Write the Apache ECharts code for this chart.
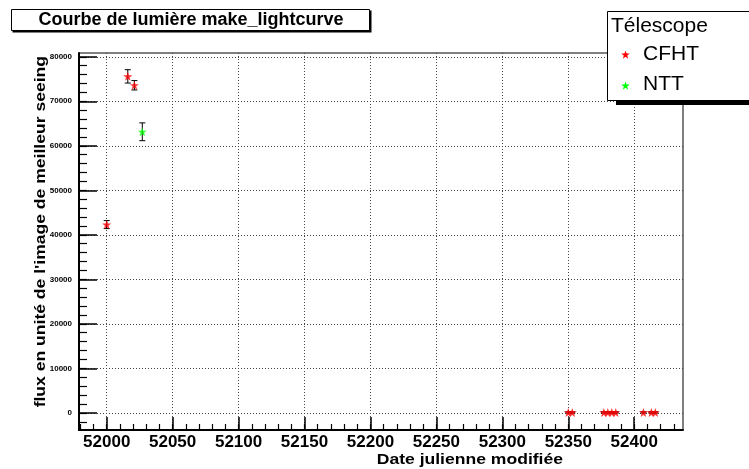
<!DOCTYPE html>
<html><head><meta charset="utf-8">
<script src="https://cdn.jsdelivr.net/npm/echarts@6/dist/echarts.min.js"></script>
<style>html,body{margin:0;padding:0;background:#fff}#c{width:749px;height:469px}</style>
</head><body><div id="c"></div><script>
// ---- data ----
const cfhtDays = [52000, 52016, 52021, 52350, 52353, 52377, 52380, 52383, 52386, 52407, 52413, 52416];
const cfhtFlux = [42300, 75600, 73600, 100, 100, 100, 100, 100, 100, 100, 100, 100];
const cfhtErr  = [900, 1500, 1050, 150, 150, 150, 150, 150, 150, 150, 150, 150];
const nttDays = [52027];
const nttFlux = [63150];
const nttErr  = [2000];
const xTickLabels = [52000, 52050, 52100, 52150, 52200, 52250, 52300, 52350, 52400];
const yTickLabels = [0, 10000, 20000, 30000, 40000, 50000, 60000, 70000, 80000];
const legendNames = ['CFHT', 'NTT'];
const titleText = 'Courbe de lumière make_lightcurve';
const legendTitle = 'Télescope';
const xTitle = 'Date julienne modifiée';
const yTitle = "flux en unité de l'image de meilleur seeing";

const xMin = 51979, xMax = 52437, yMin = -3850, yMax = 80850;
const xMinor = []; for (let v = 51980; v <= 52430; v += 10) xMinor.push(v);
const yMinor = []; for (let v = -2000; v <= 80000; v += 2000) yMinor.push(v);

const FONT = "'Liberation Sans', Arial, Helvetica, sans-serif";
const STAR_PTS = [[0,-10],[2.35,-3.24],[9.51,-3.09],[3.80,1.24],[5.88,8.09],[0,4],[-5.88,8.09],[-3.80,1.24],[-9.51,-3.09],[-2.35,-3.24]];
const STAR = 'M' + STAR_PTS.map(p => p[0] + ',' + p[1]).join(' L') + ' Z';
const RED = '#ff0000', GREEN = '#00ff00';
function starAt(cx, cy, r) { return STAR_PTS.map(p => [cx + p[0] * r / 10, cy + p[1] * r / 10]); }

function errItem(params, api) {
  const x = api.value(0), y = api.value(1), e = api.value(2);
  const t = api.coord([x, y + e]), b = api.coord([x, y - e]);
  const s = {stroke: '#000', lineWidth: 1};
  return {type: 'group', children: [
    {type: 'line', shape: {x1: t[0], y1: t[1], x2: b[0], y2: b[1]}, style: s},
    {type: 'line', shape: {x1: t[0] - 3, y1: t[1], x2: t[0] + 3, y2: t[1]}, style: s},
    {type: 'line', shape: {x1: b[0] - 3, y1: b[1], x2: b[0] + 3, y2: b[1]}, style: s}
  ]};
}

const gridRect = {left: 79, right: 66, top: 53, bottom: 39};
const chart = echarts.init(document.getElementById('c'), null, {renderer: 'canvas'});
chart.setOption({
  animation: false,
  backgroundColor: '#fff',
  grid: [
    Object.assign({show: true, borderColor: '#000', borderWidth: 1, containLabel: false}, gridRect),
    Object.assign({show: false, containLabel: false}, gridRect)
  ],
  xAxis: [{
    type: 'value', gridIndex: 0, min: xMin, max: xMax, position: 'bottom',
    axisLine: {show: true, onZero: false, lineStyle: {color: '#000', width: 2}},
    axisTick: {show: true, inside: true, length: 13, customValues: xTickLabels, lineStyle: {color: '#000', width: 1.5}},
    axisLabel: {show: true, customValues: xTickLabels, margin: 4, fontFamily: FONT, fontWeight: 'bold', fontSize: 17, color: '#000',
      formatter: v => String(v)},
    splitLine: {show: true, lineStyle: {color: '#444', width: 1, type: [1, 2]}}
  }, {
    type: 'value', gridIndex: 1, min: xMin, max: xMax, position: 'bottom',
    axisLine: {show: false, onZero: false},
    axisTick: {show: true, inside: true, length: 6, customValues: xMinor, lineStyle: {color: '#000', width: 1.2}},
    axisLabel: {show: false}, splitLine: {show: false}
  }],
  yAxis: [{
    type: 'value', gridIndex: 0, min: yMin, max: yMax, position: 'left',
    axisLine: {show: true, onZero: false, lineStyle: {color: '#000', width: 2}},
    axisTick: {show: true, inside: true, length: 18, customValues: yTickLabels, lineStyle: {color: '#000', width: 1.5}},
    axisLabel: {show: true, customValues: yTickLabels, margin: 7, fontFamily: FONT, fontWeight: 'bold', fontSize: 8, color: '#000',
      formatter: v => String(v)},
    splitLine: {show: true, lineStyle: {color: '#444', width: 1, type: [1, 2]}}
  }, {
    type: 'value', gridIndex: 1, min: yMin, max: yMax, position: 'left',
    axisLine: {show: false, onZero: false},
    axisTick: {show: true, inside: true, length: 8, customValues: yMinor, lineStyle: {color: '#000', width: 1.2}},
    axisLabel: {show: false}, splitLine: {show: false}
  }],
  series: [
    {type: 'custom', name: 'CFHT err', xAxisIndex: 0, yAxisIndex: 0, renderItem: errItem, z: 2,
      data: cfhtDays.map((d, i) => [d, cfhtFlux[i], cfhtErr[i]])},
    {type: 'custom', name: 'NTT err', xAxisIndex: 0, yAxisIndex: 0, renderItem: errItem, z: 2,
      data: nttDays.map((d, i) => [d, nttFlux[i], nttErr[i]])},
    {type: 'scatter', name: legendNames[0], xAxisIndex: 0, yAxisIndex: 0, symbol: 'path://' + STAR, symbolSize: 9, z: 3,
      itemStyle: {color: RED}, data: cfhtDays.map((d, i) => [d, cfhtFlux[i]])},
    {type: 'scatter', name: legendNames[1], xAxisIndex: 0, yAxisIndex: 0, symbol: 'path://' + STAR, symbolSize: 9, z: 3,
      itemStyle: {color: GREEN}, data: nttDays.map((d, i) => [d, nttFlux[i]])}
  ],
  graphic: [
    // title box
    {type: 'rect', z: 100, shape: {x: 12.5, y: 10.5, width: 359, height: 22}, style: {fill: '#000'}},
    {type: 'rect', z: 101, shape: {x: 11.5, y: 9.5, width: 358, height: 21}, style: {fill: '#fff', stroke: '#000', lineWidth: 1}},
    {type: 'text', z: 102, x: 191, y: 20.5, style: {text: titleText, fontFamily: FONT, fontWeight: 'bold', fontSize: 18, fill: '#000', align: 'center', verticalAlign: 'middle'}},
    // legend box
    {type: 'rect', z: 100, shape: {x: 616, y: 100, width: 140, height: 5}, style: {fill: '#000'}},
    {type: 'rect', z: 101, shape: {x: 607.5, y: 11.5, width: 160, height: 89}, style: {fill: '#fff', stroke: '#000', lineWidth: 1}},
    {type: 'text', z: 102, x: 611, y: 26, style: {text: legendTitle, fontFamily: FONT, fontSize: 21, fill: '#000', align: 'left', verticalAlign: 'middle'}},
    {type: 'polygon', z: 102, shape: {points: starAt(625.5, 55, 4.5)}, style: {fill: RED}},
    {type: 'text', z: 102, x: 643, y: 54, style: {text: legendNames[0], fontFamily: FONT, fontSize: 21, fill: '#000', align: 'left', verticalAlign: 'middle'}},
    {type: 'polygon', z: 102, shape: {points: starAt(625.5, 86, 4.5)}, style: {fill: GREEN}},
    {type: 'text', z: 102, x: 643, y: 84, style: {text: legendNames[1], fontFamily: FONT, fontSize: 21, fill: '#000', align: 'left', verticalAlign: 'middle'}},
    // axis titles
    {type: 'text', z: 102, x: 563, y: 460, scaleX: 1.17, style: {text: xTitle, fontFamily: FONT, fontWeight: 'bold', fontSize: 15, fill: '#000', align: 'right', verticalAlign: 'middle'}},
    {type: 'text', z: 102, x: 41, y: 56, rotation: Math.PI / 2, scaleX: 1.17, style: {text: yTitle, fontFamily: FONT, fontWeight: 'bold', fontSize: 15, fill: '#000', align: 'right', verticalAlign: 'middle'}}
  ]
});
</script></body></html>
